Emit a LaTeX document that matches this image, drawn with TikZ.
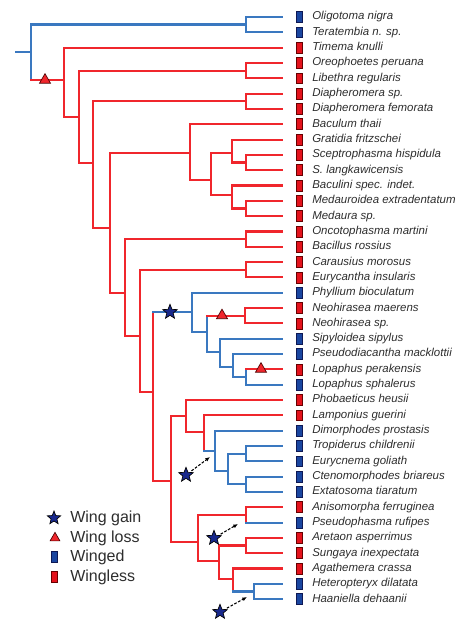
\documentclass[tikz,border=0pt]{standalone}
\usepackage{fontspec}
\setmainfont{Liberation Sans}
\usetikzlibrary{arrows.meta,shapes.geometric,positioning}

\definecolor{wingblue}{RGB}{58,120,192}
\definecolor{wingred}{RGB}{240,38,44}
\definecolor{starnavy}{RGB}{24,40,140}
\definecolor{boxblue}{RGB}{26,70,160}
\definecolor{boxred}{RGB}{228,18,28}
\definecolor{labelgrey}{RGB}{45,45,45}

\begin{document}
\begin{tikzpicture}[x=0.75pt,y=-0.75pt]
\tikzset{
  bluebranch/.style={draw=wingblue,line width=1.6pt,line cap=rect},
  redbranch/.style={draw=wingred,line width=1.6pt,line cap=rect},
  totip/.style={shorten >=10.5pt},
  taxon/.style={font=\fontsize{8.6}{10}\selectfont\itshape,text=labelgrey,inner sep=0pt,text height=6.3pt,text depth=1.9pt,xshift=7.2pt},
  winged/.style={rectangle,draw=starnavy!60!black,fill=boxblue,line width=0.5pt,minimum width=4.6pt,minimum height=8.2pt,inner sep=0pt},
  wingless/.style={rectangle,draw=red!40!black,fill=boxred,line width=0.5pt,minimum width=4.6pt,minimum height=8.2pt,inner sep=0pt},
  gain/.style={star,star points=5,star point ratio=2.3,draw=black,fill=starnavy,minimum size=11.5pt,inner sep=0pt,line width=0.5pt},
  loss/.style={regular polygon,regular polygon sides=3,draw=red!30!black,fill=wingred,minimum size=9.5pt,inner sep=0pt,line width=0.5pt},
  gainarrow/.style={-{Latex[length=3.5pt,width=3pt]},dashed,dash pattern=on 2pt off 1.2pt,black,line width=0.8pt,shorten <=1.5pt},
  legendtext/.style={font=\fontsize{12}{14}\selectfont,text=labelgrey,anchor=west,inner sep=0pt}
}
\useasboundingbox (0,0) rectangle (461,621);

% tips
\node[winged,label={[taxon]right:Oligotoma nigra}] (n_t1) at (299,17.0) {};
\node[winged,label={[taxon]right:Teratembia n. sp.}] (n_t2) at (299,32.3) {};
\node[wingless,label={[taxon]right:Timema knulli}] (n_t3) at (299,47.6) {};
\node[wingless,label={[taxon]right:Oreophoetes peruana}] (n_t4) at (299,63.0) {};
\node[wingless,label={[taxon]right:Libethra regularis}] (n_t5) at (299,78.3) {};
\node[wingless,label={[taxon]right:Diapheromera sp.}] (n_t6) at (299,93.6) {};
\node[wingless,label={[taxon]right:Diapheromera femorata}] (n_t7) at (299,108.9) {};
\node[wingless,label={[taxon]right:Baculum thaii}] (n_t8) at (299,124.2) {};
\node[wingless,label={[taxon]right:Gratidia fritzschei}] (n_t9) at (299,139.6) {};
\node[wingless,label={[taxon]right:Sceptrophasma hispidula}] (n_t10) at (299,154.9) {};
\node[wingless,label={[taxon]right:S. langkawicensis}] (n_t11) at (299,170.2) {};
\node[wingless,label={[taxon]right:Baculini spec. indet.}] (n_t12) at (299,185.5) {};
\node[wingless,label={[taxon]right:Medauroidea extradentatum}] (n_t13) at (299,200.8) {};
\node[wingless,label={[taxon]right:Medaura sp.}] (n_t14) at (299,216.2) {};
\node[wingless,label={[taxon]right:Oncotophasma martini}] (n_t15) at (299,231.5) {};
\node[wingless,label={[taxon]right:Bacillus rossius}] (n_t16) at (299,246.8) {};
\node[wingless,label={[taxon]right:Carausius morosus}] (n_t17) at (299,262.1) {};
\node[wingless,label={[taxon]right:Eurycantha insularis}] (n_t18) at (299,277.4) {};
\node[winged,label={[taxon]right:Phyllium bioculatum}] (n_t19) at (299,292.8) {};
\node[wingless,label={[taxon]right:Neohirasea maerens}] (n_t20) at (299,308.1) {};
\node[wingless,label={[taxon]right:Neohirasea sp.}] (n_t21) at (299,323.4) {};
\node[winged,label={[taxon]right:Sipyloidea sipylus}] (n_t22) at (299,338.7) {};
\node[winged,label={[taxon]right:Pseudodiacantha macklottii}] (n_t23) at (299,354.0) {};
\node[wingless,label={[taxon]right:Lopaphus perakensis}] (n_t24) at (299,369.4) {};
\node[winged,label={[taxon]right:Lopaphus sphalerus}] (n_t25) at (299,384.7) {};
\node[wingless,label={[taxon]right:Phobaeticus heusii}] (n_t26) at (299,400.0) {};
\node[wingless,label={[taxon]right:Lamponius guerini}] (n_t27) at (299,415.3) {};
\node[winged,label={[taxon]right:Dimorphodes prostasis}] (n_t28) at (299,430.6) {};
\node[winged,label={[taxon]right:Tropiderus childrenii}] (n_t29) at (299,446.0) {};
\node[winged,label={[taxon]right:Eurycnema goliath}] (n_t30) at (299,461.3) {};
\node[winged,label={[taxon]right:Ctenomorphodes briareus}] (n_t31) at (299,476.6) {};
\node[winged,label={[taxon]right:Extatosoma tiaratum}] (n_t32) at (299,491.9) {};
\node[wingless,label={[taxon]right:Anisomorpha ferruginea}] (n_t33) at (299,507.2) {};
\node[winged,label={[taxon]right:Pseudophasma rufipes}] (n_t34) at (299,522.6) {};
\node[wingless,label={[taxon]right:Aretaon asperrimus}] (n_t35) at (299,537.9) {};
\node[wingless,label={[taxon]right:Sungaya inexpectata}] (n_t36) at (299,553.2) {};
\node[wingless,label={[taxon]right:Agathemera crassa}] (n_t37) at (299,568.5) {};
\node[winged,label={[taxon]right:Heteropteryx dilatata}] (n_t38) at (299,583.8) {};
\node[winged,label={[taxon]right:Haaniella dehaanii}] (n_t39) at (299,599.2) {};

% internal nodes
\coordinate (n_b) at (16,52);
\coordinate (n_r) at (31,52);
\coordinate (n_c1) at (246,24.5);
\coordinate (n_c2) at (64,80);
\coordinate (n_c3) at (79,117);
\coordinate (n_c4) at (246,70.6);
\coordinate (n_c5) at (93,163);
\coordinate (n_c6) at (246,101.3);
\coordinate (n_c7) at (110,228);
\coordinate (n_c8) at (190,153);
\coordinate (n_c9) at (211,180);
\coordinate (n_c10) at (232,153);
\coordinate (n_c11) at (246,162.5);
\coordinate (n_c12) at (232,195);
\coordinate (n_c13) at (246,208.5);
\coordinate (n_c14) at (125,293);
\coordinate (n_c15) at (246,239.2);
\coordinate (n_c16) at (140,336);
\coordinate (n_c17) at (246,269.8);
\coordinate (n_c18) at (153,392);
\coordinate (n_c19) at (192,312);
\coordinate (n_c20) at (207,332);
\coordinate (n_c21) at (245,315.8);
\coordinate (n_c22) at (220,352);
\coordinate (n_c23) at (233,367);
\coordinate (n_c24) at (246,377);
\coordinate (n_c25) at (171,481);
\coordinate (n_c26) at (186,416);
\coordinate (n_c27) at (204,432);
\coordinate (n_c28) at (215,451);
\coordinate (n_c29) at (228,471);
\coordinate (n_c30) at (246,453.6);
\coordinate (n_c31) at (246,484.3);
\coordinate (n_c32) at (198,542);
\coordinate (n_c33) at (246,514.9);
\coordinate (n_c34) at (219,561);
\coordinate (n_c35) at (246,545.5);
\coordinate (n_c36) at (233,579);
\coordinate (n_c37) at (254,591.5);

% branches
\draw[bluebranch] (n_b) -- (n_r);
\draw[bluebranch] (n_r) |- (n_c1);
\draw[bluebranch] (n_r) -- (n_r |- n_c2);
\draw[redbranch] (n_r |- n_c2) -- (n_c2);
\draw[bluebranch,totip] (n_c1) |- (n_t1);
\draw[bluebranch,totip] (n_c1) |- (n_t2);
\draw[redbranch,totip] (n_c2) |- (n_t3);
\draw[redbranch] (n_c2) |- (n_c3);
\draw[redbranch] (n_c3) |- (n_c4);
\draw[redbranch] (n_c3) |- (n_c5);
\draw[redbranch,totip] (n_c4) |- (n_t4);
\draw[redbranch,totip] (n_c4) |- (n_t5);
\draw[redbranch] (n_c5) |- (n_c6);
\draw[redbranch] (n_c5) |- (n_c7);
\draw[redbranch,totip] (n_c6) |- (n_t6);
\draw[redbranch,totip] (n_c6) |- (n_t7);
\draw[redbranch] (n_c7) |- (n_c8);
\draw[redbranch] (n_c7) |- (n_c14);
\draw[redbranch,totip] (n_c8) |- (n_t8);
\draw[redbranch] (n_c8) |- (n_c9);
\draw[redbranch] (n_c9) |- (n_c10);
\draw[redbranch] (n_c9) |- (n_c12);
\draw[redbranch,totip] (n_c10) |- (n_t9);
\draw[redbranch] (n_c10) |- (n_c11);
\draw[redbranch,totip] (n_c11) |- (n_t10);
\draw[redbranch,totip] (n_c11) |- (n_t11);
\draw[redbranch,totip] (n_c12) |- (n_t12);
\draw[redbranch] (n_c12) |- (n_c13);
\draw[redbranch,totip] (n_c13) |- (n_t13);
\draw[redbranch,totip] (n_c13) |- (n_t14);
\draw[redbranch] (n_c14) |- (n_c15);
\draw[redbranch] (n_c14) |- (n_c16);
\draw[redbranch,totip] (n_c15) |- (n_t15);
\draw[redbranch,totip] (n_c15) |- (n_t16);
\draw[redbranch] (n_c16) |- (n_c17);
\draw[redbranch] (n_c16) |- (n_c18);
\draw[redbranch,totip] (n_c17) |- (n_t17);
\draw[redbranch,totip] (n_c17) |- (n_t18);
% winged leaf insects and relatives
\draw[redbranch] (n_c18) -- (n_c18 |- n_c19);
\draw[bluebranch] (n_c18 |- n_c19) -- (n_c19);
\draw[redbranch] (n_c18) |- (n_c25);
\draw[bluebranch,totip] (n_c19) |- (n_t19);
\draw[bluebranch] (n_c19) |- (n_c20);
\draw[bluebranch] (n_c20) -- (n_c20 |- n_c21);
\draw[redbranch] (n_c20 |- n_c21) -- (n_c21);
\draw[bluebranch] (n_c20) |- (n_c22);
\draw[redbranch,totip] (n_c21) |- (n_t20);
\draw[redbranch,totip] (n_c21) |- (n_t21);
\draw[bluebranch,totip] (n_c22) |- (n_t22);
\draw[bluebranch] (n_c22) |- (n_c23);
\draw[bluebranch,totip] (n_c23) |- (n_t23);
\draw[bluebranch] (n_c23) |- (n_c24);
\draw[bluebranch] (n_c24) -- (n_c24 |- n_t24);
\draw[redbranch,totip] (n_c24 |- n_t24) -- (n_t24);
\draw[bluebranch,totip] (n_c24) |- (n_t25);
% lower clades
\draw[redbranch] (n_c25) |- (n_c26);
\draw[redbranch] (n_c25) |- (n_c32);
\draw[redbranch,totip] (n_c26) |- (n_t26);
\draw[redbranch] (n_c26) |- (n_c27);
\draw[redbranch,totip] (n_c27) |- (n_t27);
\draw[redbranch] (n_c27) -- (n_c27 |- n_c28);
\draw[bluebranch] (n_c27 |- n_c28) -- (n_c28);
\draw[bluebranch,totip] (n_c28) |- (n_t28);
\draw[bluebranch] (n_c28) |- (n_c29);
\draw[bluebranch] (n_c29) |- (n_c30);
\draw[bluebranch] (n_c29) |- (n_c31);
\draw[bluebranch,totip] (n_c30) |- (n_t29);
\draw[bluebranch,totip] (n_c30) |- (n_t30);
\draw[bluebranch,totip] (n_c31) |- (n_t31);
\draw[bluebranch,totip] (n_c31) |- (n_t32);
\draw[redbranch] (n_c32) |- (n_c33);
\draw[redbranch] (n_c32) |- (n_c34);
\draw[redbranch,totip] (n_c33) |- (n_t33);
\draw[redbranch] (n_c33) -- (n_c33 |- n_t34);
\draw[bluebranch,totip] (n_c33 |- n_t34) -- (n_t34);
\draw[redbranch] (n_c34) |- (n_c35);
\draw[redbranch] (n_c34) |- (n_c36);
\draw[redbranch,totip] (n_c35) |- (n_t35);
\draw[redbranch,totip] (n_c35) |- (n_t36);
\draw[redbranch,totip] (n_c36) |- (n_t37);
\draw[redbranch] (n_c36) -- (n_c36 |- n_c37);
\draw[bluebranch] (n_c36 |- n_c37) -- (n_c37);
\draw[bluebranch,totip] (n_c37) |- (n_t38);
\draw[bluebranch,totip] (n_c37) |- (n_t39);

% wing losses
\node[loss] (n_l1) at (45,80) {};
\node[loss] (n_l2) at (222,315.5) {};
\node[loss] (n_l3) at (261,369) {};

% wing gains
\node[gain] (n_g1) at (170,312) {};
\node[gain] (n_g2) at (186,475) {};
\node[gain] (n_g3) at (214,538) {};
\node[gain] (n_g4) at (220,612) {};
\coordinate (n_a2) at (210,457);
\coordinate (n_a3) at (238,524);
\coordinate (n_a4) at (247,597);
\draw[gainarrow] (n_g2) -- (n_a2);
\draw[gainarrow] (n_g3) -- (n_a3);
\draw[gainarrow] (n_g4) -- (n_a4);

% legend
\node[gain,minimum size=10.5pt] (n_k1) at (54,518) {};
\node[loss,minimum size=8.5pt] (n_k2) at (55,538) {};
\node[winged] (n_k3) at (54,557) {};
\node[wingless] (n_k4) at (54,577) {};
\node[legendtext] (n_x1) at (70,518) {Wing gain};
\node[legendtext] (n_x2) at (70,538) {Wing loss};
\node[legendtext] (n_x3) at (70,557) {Winged};
\node[legendtext] (n_x4) at (70,577) {Wingless};
\end{tikzpicture}
\end{document}
